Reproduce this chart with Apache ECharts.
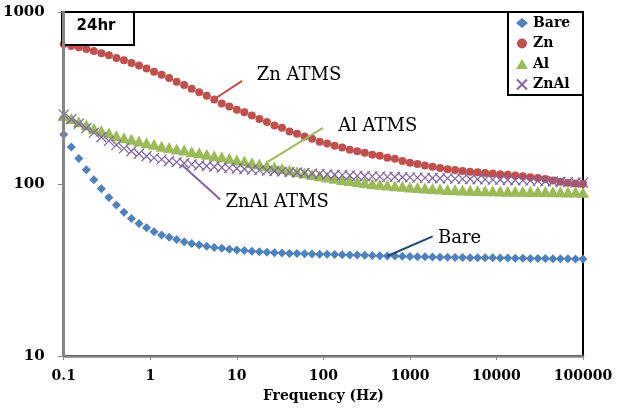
<!DOCTYPE html>
<html>
<head>
<meta charset="utf-8">
<script src="https://cdn.jsdelivr.net/npm/echarts@6/dist/echarts.min.js"></script>
<style>
html,body{margin:0;padding:0;background:#fff;}
#chart{width:623px;height:408px;}
</style>
</head>
<body>
<div id="chart"></div>
<script>
// Frequencies (Hz)
var freq = [0.1,0.1222,0.1493,0.1823,0.2227,0.2721,0.3323,0.406,0.496,0.6058,0.7401,0.9048,1.105,1.351,1.65,2.016,2.463,3.009,3.675,4.49,5.485,6.701,8.187,
10,12.22,14.93,18.23,22.27,27.21,33.23,40.6,49.6,60.58,74.01,90.48,110.5,135.1,165,201.6,246.3,300.9,367.5,449,548.5,670.1,818.7,
1000,1222,1493,1823,2227,2721,3323,4060,4960,6058,7401,9048,11050,13510,16500,20160,24630,30090,36750,44900,54850,67010,81870,100000];

var bare = [194,164,140.5,121,106,93.8,83.5,75.4,68.4,63.1,58.9,55.6,52.8,50.5,49.0,47.5,46.1,45.1,44.2,43.4,42.8,42.3,41.7,
41.3,41.0,40.6,40.4,40.1,39.9,39.7,39.5,39.4,39.3,39.2,39.1,39.0,38.9,38.8,38.7,38.6,38.5,38.4,38.3,38.2,38.1,38.0,
37.9,37.8,37.7,37.6,37.5,37.5,37.4,37.4,37.3,37.3,37.2,37.2,37.1,37.1,37.0,37.0,36.9,36.9,36.9,36.8,36.8,36.8,36.7,36.7];

var zn = [652,635,624,610,594,576,561,541,525,506,488,469,449,431,413,393,376,358,341,326,310,294,282,
270,261,250,239,229,219,212,202,196,189,183,176,172,167,163,158,155,152,148,146,142,140,136,
133,130.6,128,125.8,124,122,120.5,119,118,117,116,115,114,113,112,111,109.6,108.2,106.8,104.8,103,101.6,100.7,100.3];

var al = [250,240,230,221,211,204,198,191,186,182,178,174,170,166,163,160,157.5,154,152,149,146,144,141,
138,136,133,130.6,128,125.5,123,120.5,118,115.8,113.5,111.5,109.8,108,106.2,104.8,103.4,102,100.7,99.6,98.7,97.7,97.0,
96.2,95.4,94.8,94.2,93.5,92.9,92.5,92.3,92.0,91.8,91.5,91.3,91.0,90.9,90.8,90.7,90.5,90.4,90.3,90.1,90.0,89.9,89.8,89.6];

var znal = [253,238,224,211,199,187,178,169,161,155,150,145,142,139,136,134,132,130,128.5,127.2,126,124.8,124,
123,122.2,121.3,120.5,119.7,119,118,117.3,116.6,115.8,115,114.5,113.8,113.2,112.6,112,111.5,111,110.7,110.4,110.1,109.8,109.5,
109.2,108.9,108.6,108.3,108.0,107.8,107.5,107.2,106.9,106.6,106.3,106.1,105.8,105.5,105.2,104.9,104.6,104.2,103.8,103.4,103.0,102.6,102.0,101.6];

var seriesNames = ['Bare','Zn','Al','ZnAl'];
var xTickLabels = ['0.1','1','10','100','1000','10000','100000'];
var yTickLabels = ['10','100','1000'];

function pairs(ys){ return ys.map(function(v,i){ return [freq[i], v]; }); }

var SERIF = "'DejaVu Serif', 'Liberation Serif', serif";
var AX = '#868686';

function annot(lineFrom, lineTo, color, textAt, text){
  return {
    markLine: {
      silent: true, animation: false, symbol: ['none','none'],
      label: {show: false},
      lineStyle: {color: color, width: 2, type: 'solid'},
      emphasis: {disabled: true},
      data: [[{coord: lineFrom}, {coord: lineTo}]]
    },
    markPoint: {
      silent: true, animation: false, symbol: 'rect', symbolSize: 1,
      itemStyle: {color: 'rgba(0,0,0,0)'},
      label: {show: true, position: 'inside', formatter: text, color: '#000',
              fontFamily: SERIF, fontSize: 18},
      data: [{coord: textAt}]
    }
  };
}

var aBare = annot([541, 38.0], [1832, 49.6], '#1F497D', [3750, 48.3], 'Bare');
var aZn   = annot([5.35, 309], [11.5, 398], '#C0504D', [52.4, 431], 'Zn ATMS');
var aAl   = annot([23.0, 135], [98.9, 212], '#9BBB59', [425, 215], 'Al ATMS');
var aZnAl = annot([2.29, 130], [6.44, 81.3], '#8064A2', [29.2, 78.1], 'ZnAl ATMS');

var chart = echarts.init(document.getElementById('chart'), null, {renderer: 'canvas'});
chart.setOption({
  animation: false,
  grid: {left: 62, right: 40, top: 12, bottom: 51, show: true,
         borderColor: '#000', borderWidth: 2, backgroundColor: '#fff'},
  xAxis: {
    type: 'log', logBase: 10, min: 0.1, max: 100000, z: 5,
    name: 'Frequency (Hz)', nameLocation: 'middle', nameGap: 33,
    nameTextStyle: {fontFamily: SERIF, fontWeight: 'bold', fontSize: 14, color: '#000'},
    axisLine: {lineStyle: {color: AX, width: 2.5}},
    axisTick: {show: true, length: 4, lineStyle: {color: AX, width: 1}},
    minorTick: {show: false},
    splitLine: {show: false},
    axisLabel: {
      margin: 13, color: '#000', fontFamily: SERIF, fontWeight: 'bold', fontSize: 14,
      formatter: function(v){ return xTickLabels[Math.round(Math.log10(v)) + 1] || ''; }
    }
  },
  yAxis: {
    type: 'log', logBase: 10, min: 10, max: 1000, z: 5,
    axisLine: {show: true, lineStyle: {color: AX, width: 3}},
    axisTick: {show: true, length: 6, lineStyle: {color: AX, width: 1}},
    minorTick: {show: false},
    splitLine: {show: false},
    axisLabel: {
      margin: 19, color: '#000', fontFamily: SERIF, fontWeight: 'bold', fontSize: 15,
      formatter: function(v){ return yTickLabels[Math.round(Math.log10(v)) - 1] || ''; }
    }
  },
  legend: {
    orient: 'vertical', left: 516, top: 16, padding: 0, z: 10,
    itemWidth: 12, itemHeight: 10, itemGap: 6.5,
    textStyle: {fontFamily: SERIF, fontWeight: 'bold', fontSize: 14, lineHeight: 14, color: '#000'},
    data: seriesNames
  },
  graphic: [
    {type: 'rect', z: 3, shape: {x: 508, y: 12, width: 75, height: 83},
     style: {fill: '#fff', stroke: '#000', lineWidth: 2}},
    {type: 'rect', z: 3, shape: {x: 62, y: 12, width: 72, height: 33},
     style: {fill: '#fff', stroke: '#000', lineWidth: 2}},
    {type: 'text', z: 4, x: 96, y: 26,
     style: {text: '24hr', fill: '#000', fontFamily: "'DejaVu Sans', sans-serif", fontWeight: 'bold',
             fontSize: 15, align: 'center', verticalAlign: 'middle'}}
  ],
  series: [
    Object.assign({name: seriesNames[0], type: 'scatter', data: pairs(bare), symbol: 'diamond', symbolSize: 9,
      itemStyle: {color: '#4F81BD', opacity: 1}, z: 2}, aBare),
    Object.assign({name: seriesNames[1], type: 'scatter', data: pairs(zn), symbol: 'circle', symbolSize: 8,
      itemStyle: {color: '#C0504D', opacity: 1}, z: 2}, aZn),
    Object.assign({name: seriesNames[2], type: 'scatter', data: pairs(al), symbol: 'triangle', symbolSize: [12, 11],
      itemStyle: {color: '#9BBB59', opacity: 1}, z: 2}, aAl),
    Object.assign({name: seriesNames[3], type: 'scatter', data: pairs(znal),
      symbol: 'path://M0,0L10,10M10,0L0,10', symbolSize: 10,
      itemStyle: {color: 'rgba(0,0,0,0)', borderColor: '#8064A2', borderWidth: 1.2, opacity: 1}, z: 2}, aZnAl)
  ]
});
</script>
</body>
</html>
